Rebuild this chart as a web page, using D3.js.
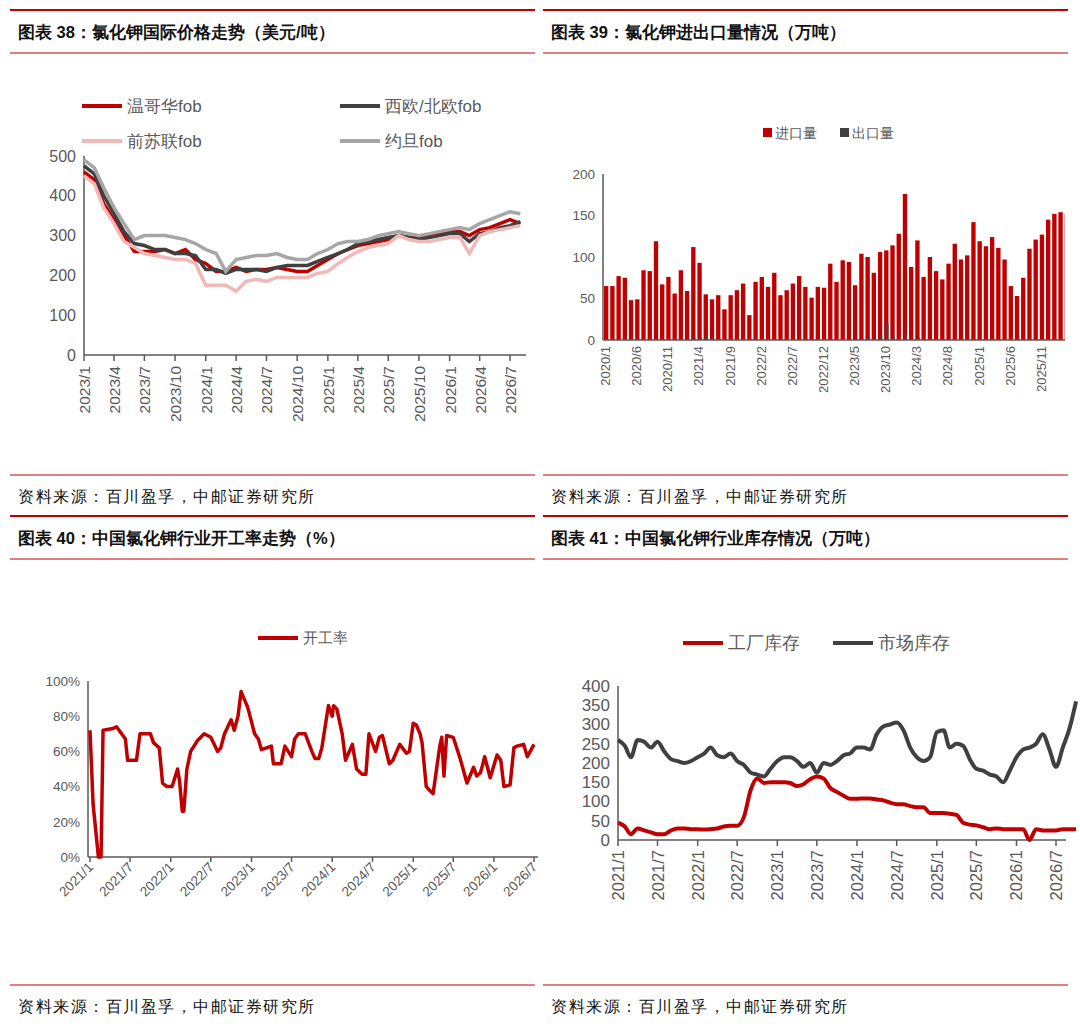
<!DOCTYPE html>
<html><head><meta charset="utf-8">
<script src="https://cdn.jsdelivr.net/npm/d3@7"></script>
<style>body{margin:0;background:#fff}svg{display:block}text{font-family:"Liberation Sans",Arial,sans-serif}</style>
</head><body>
<svg id="c" width="1080" height="1032"></svg>
<script>
// ---------- DATA ----------
const titles = ["图表 38：氯化钾国际价格走势（美元/吨）","图表 39：氯化钾进出口量情况（万吨）","图表 40：中国氯化钾行业开工率走势（%）","图表 41：中国氯化钾行业库存情况（万吨）"];
const source = "资料来源：百川盈孚，中邮证券研究所";

// Chart 38 monthly from 2023/1
const p1Start = "2023-01";
const vancouver = [460,440,380,340,300,260,260,260,265,255,265,240,230,210,210,220,210,215,215,220,215,210,210,225,240,255,265,275,280,285,290,300,295,295,300,305,310,310,300,315,320,330,340,330];
const westEurope = [475,455,400,355,310,280,275,265,265,255,255,250,215,215,205,215,215,215,210,220,225,225,225,235,245,255,265,280,285,290,295,300,295,290,295,300,305,305,285,305,310,320,325,335];
const fsu = [450,430,370,330,285,270,255,250,245,240,240,230,175,175,175,160,185,190,185,195,195,195,195,205,210,230,245,260,270,275,280,300,290,285,285,290,295,295,255,300,310,315,320,325];
const jordan = [490,470,420,370,330,290,300,300,300,295,290,280,265,255,210,240,245,250,250,255,245,240,240,255,265,280,285,285,290,300,305,310,305,300,305,310,315,320,315,330,340,350,360,355];
const p1Names = ["温哥华fob","西欧/北欧fob","前苏联fob","约旦fob"];
const p1Ticks = ["2023/1","2023/4","2023/7","2023/10","2024/1","2024/4","2024/7","2024/10","2025/1","2025/4","2025/7","2025/10","2026/1","2026/4","2026/7"];

// Chart 39 monthly from 2020/1
const imports = [65,65,77,75,48,49,84,83,119,67,76,56,84,59,112,93,55,49,54,37,54,60,68,30,70,76,64,81,54,60,68,77,64,51,64,63,92,70,96,94,66,104,100,81,106,108,114,128,176,88,120,76,100,83,73,92,116,97,102,142,119,113,124,111,97,65,53,75,110,121,127,145,152,154,152];
const exports_ = [1,1,1,2,2,1,1,1,1,1,1,2,1,1,2,3,6,4,2,1,1,1,1,1,1,1,1,1,1,1,1,1,1,1,1,1,1,1,1,1,2,1,3,2,5,19,4,1,7,1,3,1,1,1,1,1,1,1,1,1,1,1,1,1,1,1,1,1,1,1,1,1,1,1,1];
const p2Names = ["进口量","出口量"];
const p2Ticks = ["2020/1","2020/6","2020/11","2021/4","2021/9","2022/2","2022/7","2022/12","2023/5","2023/10","2024/3","2024/8","2025/1","2025/6","2025/11"];

// Chart 40 operating rate (%)
const rateDates = ["2021-01-01","2021-01-15","2021-02-08","2021-02-20","2021-03-01","2021-04-15","2021-05-01","2021-06-10","2021-06-20","2021-07-30","2021-08-15","2021-10-01","2021-10-15","2021-11-10","2021-11-25","2021-12-15","2022-01-07","2022-02-01","2022-02-10","2022-02-22","2022-03-01","2022-03-15","2022-04-01","2022-05-01","2022-06-01","2022-07-01","2022-08-01","2022-08-15","2022-09-01","2022-10-01","2022-10-15","2022-11-01","2022-11-15","2022-12-15","2023-01-15","2023-02-01","2023-02-15","2023-04-01","2023-04-10","2023-04-25","2023-05-15","2023-06-01","2023-07-01","2023-07-15","2023-08-01","2023-09-01","2023-10-01","2023-10-15","2023-11-01","2023-11-15","2023-12-01","2023-12-15","2024-01-01","2024-01-07","2024-01-22","2024-02-15","2024-03-01","2024-04-01","2024-04-20","2024-05-15","2024-06-01","2024-06-15","2024-07-15","2024-08-01","2024-08-15","2024-09-15","2024-10-01","2024-11-01","2024-12-01","2024-12-15","2025-01-01","2025-01-15","2025-02-01","2025-02-10","2025-03-01","2025-03-15","2025-04-01","2025-05-01","2025-05-10","2025-05-20","2025-06-01","2025-07-01","2025-08-01","2025-09-01","2025-10-01","2025-10-15","2025-11-01","2025-11-10","2025-11-20","2025-12-15","2026-01-15","2026-02-01","2026-02-15","2026-03-15","2026-04-01","2026-04-15","2026-05-15","2026-06-01","2026-07-01"];
const rateValues = [72,30,0,0,72,73,74,67,55,55,70,70,65,62,42,40,40,50,43,26,26,50,60,66,70,68,60,62,70,78,72,80,94,85,70,67,61,63,53,53,53,63,57,67,70,70,60,56,56,62,75,86,80,86,84,70,55,64,50,47,47,70,60,68,69,53,55,64,59,60,76,75,70,65,40,38,36,63,68,46,69,68,56,42,51,46,48,52,57,45,58,55,40,41,62,63,64,57,64];
const p3Names = ["开工率"];
const p3Ticks = ["2021/1","2021/7","2022/1","2022/7","2023/1","2023/7","2024/1","2024/7","2025/1","2025/7","2026/1","2026/7"];

// Chart 41 inventory monthly from 2021/1
const marketStock = [260,245,215,260,255,240,255,230,210,205,200,205,215,225,240,220,215,225,205,195,175,170,165,185,205,215,215,205,190,200,175,200,195,205,220,225,240,240,235,275,295,300,305,285,240,215,205,215,280,285,240,250,245,210,185,180,170,165,150,180,215,235,240,250,275,235,190,240,290,360];
const factoryStock = [45,35,15,30,25,20,15,15,25,30,30,28,28,27,28,30,35,37,37,60,130,160,148,150,150,150,148,140,145,158,165,160,135,125,115,107,107,108,108,105,103,97,93,93,88,85,85,70,70,70,68,65,45,40,38,33,28,30,28,28,28,28,0,28,25,25,25,28,28,28];
const p4Names = ["工厂库存","市场库存"];
const p4Ticks = ["2021/1","2021/7","2022/1","2022/7","2023/1","2023/7","2024/1","2024/7","2025/1","2025/7","2026/1","2026/7"];

// ---------- DRAW ----------
const svg = d3.select("#c");
const RED = "#c00000", DARK = "#404040", AX = "#595959", CJK = "'Noto Sans CJK SC',sans-serif";
const parseYM = d3.timeParse("%Y/%m");
const parseD = d3.timeParse("%Y-%m-%d");
function monthsFrom(start, n){const s=d3.timeParse("%Y-%m")(start);return d3.range(n).map(i=>d3.timeMonth.offset(s,i));}

function frame(x0,x1,yTop,yFoot,title){
  svg.append("line").attr("x1",x0).attr("x2",x1).attr("y1",yTop).attr("y2",yTop).attr("stroke",RED).attr("stroke-width",2);
  svg.append("text").attr("x",x0+8).attr("y",yTop+28).attr("font-family",CJK).attr("font-weight","bold").attr("font-size",16.5).attr("fill","#111").text(title);
  svg.append("line").attr("x1",x0).attr("x2",x1).attr("y1",yTop+43).attr("y2",yTop+43).attr("stroke",RED).attr("stroke-width",1.2);
  svg.append("line").attr("x1",x0).attr("x2",x1).attr("y1",yFoot).attr("y2",yFoot).attr("stroke",RED).attr("stroke-width",1);
  svg.append("text").attr("x",x0+8).attr("y",yFoot+27).attr("font-family",CJK).attr("font-size",16).attr("fill","#111").attr("letter-spacing",1.5).text(source);
}
frame(10,535,10,475,titles[0]);
frame(543,1068,10,475,titles[1]);
frame(10,535,516,985,titles[2]);
frame(543,1068,516,985,titles[3]);

function yAxis(g,y,ticks,fmt,x,fs){
  g.append("line").attr("x1",x).attr("x2",x).attr("y1",y.range()[1]).attr("y2",y.range()[0]).attr("stroke",AX).attr("stroke-width",1.5);
  ticks.forEach(t=>g.append("text").attr("x",x-8).attr("y",y(t)).attr("dy","0.35em").attr("text-anchor","end").attr("font-size",fs).attr("fill",AX).text(fmt(t)));
}
function legendLine(x,y,color,label,fs,len){
  svg.append("line").attr("x1",x).attr("x2",x+len).attr("y1",y).attr("y2",y).attr("stroke",color).attr("stroke-width",4);
  svg.append("text").attr("x",x+len+5).attr("y",y).attr("dy","0.35em").attr("font-family",CJK).attr("font-size",fs).attr("fill",AX).text(label);
}

// Chart 38
{
  const g=svg.append("g");
  const dates=monthsFrom(p1Start,vancouver.length);
  const x=d3.scaleTime().domain([parseYM("2023/1"),parseYM("2026/7")]).range([84,510]);
  const y=d3.scaleLinear().domain([0,500]).range([355,156]);
  yAxis(g,y,[0,100,200,300,400,500],d=>d,84,16);
  g.append("line").attr("x1",84).attr("x2",526).attr("y1",355).attr("y2",355).attr("stroke",AX).attr("stroke-width",1.5);
  p1Ticks.forEach(t=>{const xx=x(parseYM(t));
    g.append("line").attr("x1",xx).attr("x2",xx).attr("y1",355).attr("y2",361).attr("stroke",AX).attr("stroke-width",1.5);
    g.append("text").attr("transform",`translate(${xx+6},${366}) rotate(-90)`).attr("text-anchor","end").attr("font-size",15.5).attr("fill",AX).text(t);});
  const line=d3.line().x((d,i)=>x(dates[i])).y(d=>y(d)).curve(d3.curveLinear);
  [[vancouver,RED],[westEurope,DARK],[fsu,"#f0b8b8"],[jordan,"#a6a6a6"]].forEach(([s,c])=>g.append("path").attr("d",line(s)).attr("fill","none").attr("stroke",c).attr("stroke-width",3.5));
  legendLine(82,106,RED,p1Names[0],17,40);
  legendLine(340,106,DARK,p1Names[1],17,40);
  legendLine(82,141,"#f0b8b8",p1Names[2],17,40);
  legendLine(340,141,"#a6a6a6",p1Names[3],17,40);
}

// Chart 39
{
  const g=svg.append("g");
  const months=monthsFrom("2020-01",imports.length).map(d3.timeFormat("%Y/%-m"));
  const x=d3.scaleBand().domain(months).range([603,1068]).paddingInner(0.3).paddingOuter(0);
  const y=d3.scaleLinear().domain([0,200]).range([340,174]);
  svg.append("clipPath").attr("id","cl2").append("rect").attr("x",600).attr("y",150).attr("width",465).attr("height",200);
  const bg=g.append("g").attr("clip-path","url(#cl2)");
  bg.selectAll(".imp").data(imports).join("rect").attr("x",(d,i)=>x(months[i])+1).attr("width",x.bandwidth()).attr("y",d=>y(d)).attr("height",d=>340-y(d)).attr("fill",RED);
  bg.selectAll(".exp").data(exports_).join("rect").attr("x",(d,i)=>x(months[i])+1+x.bandwidth()*0.5).attr("width",x.bandwidth()*0.5).attr("y",d=>y(d)).attr("height",d=>340-y(d)).attr("fill",DARK);
  yAxis(g,y,[0,50,100,150,200],d=>d,603,13.5);
  g.append("line").attr("x1",603).attr("x2",1065).attr("y1",340).attr("y2",340).attr("stroke",AX).attr("stroke-width",1.5);
  p2Ticks.forEach(t=>{const xx=x(t)+x.step()/2;
    g.append("text").attr("transform",`translate(${xx+4},${346}) rotate(-90)`).attr("text-anchor","end").attr("font-size",13).attr("fill",AX).text(t);});
  [[763,RED,p2Names[0]],[840,DARK,p2Names[1]]].forEach(([lx,c,n])=>{
    svg.append("rect").attr("x",lx).attr("y",128).attr("width",9).attr("height",9).attr("fill",c);
    svg.append("text").attr("x",lx+12).attr("y",133).attr("dy","0.35em").attr("font-family",CJK).attr("font-size",14).attr("fill",AX).text(n);});
}

// Chart 40
{
  const g=svg.append("g");
  const dates=rateDates.map(parseD);
  const x=d3.scaleTime().domain([parseYM("2021/1"),parseYM("2026/7")]).range([90,534]);
  const y=d3.scaleLinear().domain([0,100]).range([857,681]);
  yAxis(g,y,[0,20,40,60,80,100],d=>d+"%",88,13.5);
  g.append("line").attr("x1",88).attr("x2",538).attr("y1",857).attr("y2",857).attr("stroke",AX).attr("stroke-width",1.5);
  p3Ticks.forEach(t=>{const xx=x(parseYM(t));
    g.append("line").attr("x1",xx).attr("x2",xx).attr("y1",857).attr("y2",862).attr("stroke",AX).attr("stroke-width",1.5);
    g.append("text").attr("transform",`translate(${xx+4},${868}) rotate(-45)`).attr("text-anchor","end").attr("font-size",13.5).attr("fill",AX).text(t);});
  const line=d3.line().x((d,i)=>x(dates[i])).y(d=>y(d)).curve(d3.curveLinear);
  g.append("path").attr("d",line(rateValues)).attr("fill","none").attr("stroke",RED).attr("stroke-width",3.5).attr("stroke-linejoin","round");
  legendLine(258,638,RED,p3Names[0],15,40);
}

// Chart 41
{
  const g=svg.append("g");
  const dates=monthsFrom("2021-01",marketStock.length);
  const x=d3.scaleTime().domain([parseYM("2021/1"),parseYM("2026/7")]).range([618,1056]);
  const y=d3.scaleLinear().domain([0,400]).range([840,686]);
  yAxis(g,y,[0,50,100,150,200,250,300,350,400],d=>d,618,17);
  g.append("line").attr("x1",618).attr("x2",1066).attr("y1",840).attr("y2",840).attr("stroke",AX).attr("stroke-width",1.5);
  p4Ticks.forEach(t=>{const xx=x(parseYM(t));
    g.append("line").attr("x1",xx).attr("x2",xx).attr("y1",840).attr("y2",846).attr("stroke",AX).attr("stroke-width",1.5);
    g.append("text").attr("transform",`translate(${xx+6},${850}) rotate(-90)`).attr("text-anchor","end").attr("font-size",16.5).attr("fill",AX).text(t);});
  const line=d3.line().x((d,i)=>x(dates[i])).y(d=>y(d)).curve(d3.curveMonotoneX);
  g.append("path").attr("d",line(marketStock)).attr("fill","none").attr("stroke",DARK).attr("stroke-width",4);
  g.append("path").attr("d",line(factoryStock)).attr("fill","none").attr("stroke",RED).attr("stroke-width",4);
  legendLine(683,643,RED,p4Names[0],18,40);
  legendLine(833,643,DARK,p4Names[1],18,40);
}
</script>
</body></html>
